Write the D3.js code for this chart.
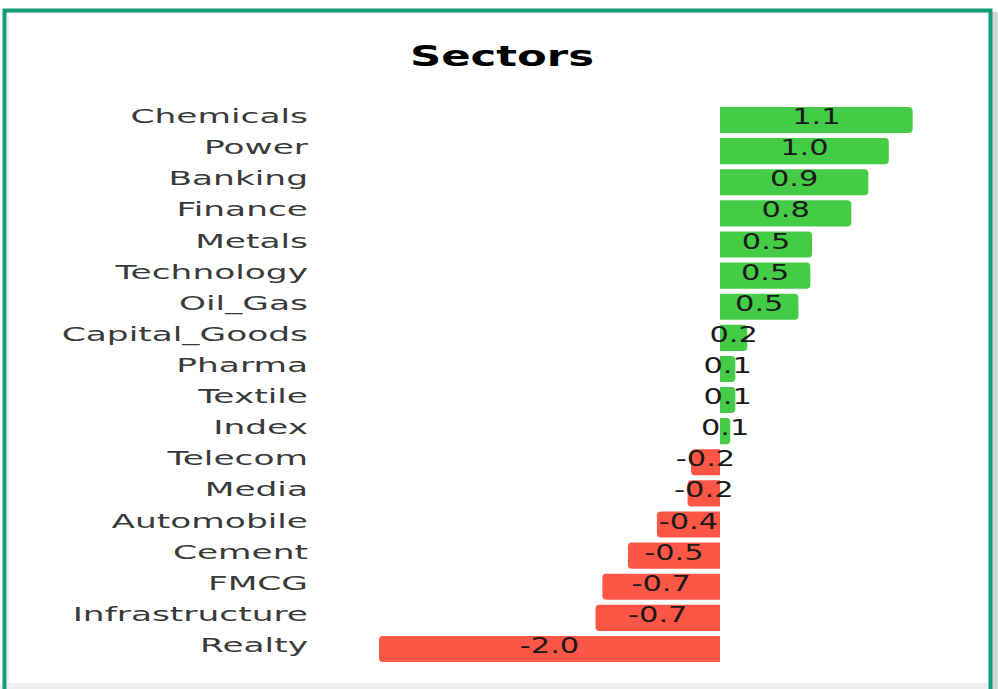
<!DOCTYPE html>
<html>
<head>
<meta charset="utf-8">
<script src="https://cdn.jsdelivr.net/npm/d3@7"></script>
<style>
  body { margin: 0; background: #ffffff; }
  svg { display: block; }
  text { font-family: "DejaVu Sans", sans-serif; }
</style>
</head>
<body>
<div id="chart"></div>
<script>
// Sector names, top to bottom
const sectors = ["Chemicals", "Power", "Banking", "Finance", "Metals", "Technology", "Oil_Gas",
  "Capital_Goods", "Pharma", "Textile", "Index", "Telecom", "Media", "Automobile", "Cement",
  "FMCG", "Infrastructure", "Realty"];

// Change values (%)
const changes = [1.13, 0.99, 0.87, 0.77, 0.54, 0.53, 0.46, 0.16, 0.09, 0.09, 0.06, -0.17, -0.19,
  -0.37, -0.54, -0.69, -0.73, -2.0];

const W = 998, H = 689;
const catStretch = 1.72; // the picture is stretched sideways
const valStretch = 1.45;

const svg = d3.select("#chart").append("svg")
  .attr("width", W)
  .attr("height", H);

// bottom gray strip and right shadow
svg.append("rect").attr("x", 0).attr("y", 683).attr("width", W).attr("height", 6).attr("fill", "#efefef");
svg.append("rect").attr("x", 992).attr("y", 12).attr("width", 6).attr("height", H).attr("fill", "#d4d4d4");
// soft inner line
svg.append("rect").attr("x", 7).attr("y", 12).attr("width", 981).attr("height", 2).attr("fill", "#eef1f0");
svg.append("rect").attr("x", 7).attr("y", 12).attr("width", 2).attr("height", 671).attr("fill", "#eef1f0");

// green frame
svg.append("path")
  .attr("d", "M4.5,689 V10.5 H990.5 V689")
  .attr("fill", "none")
  .attr("stroke", "#169b77")
  .attr("stroke-width", 4);

// title
svg.append("text")
  .attr("transform", "translate(502,66) scale(1.55,1)")
  .attr("text-anchor", "middle")
  .attr("font-size", 28)
  .attr("font-weight", "bold")
  .attr("fill", "#000")
  .text("Sectors");

const x = d3.scaleLinear()
  .domain([-2, 1.2])
  .range([379, 924.6]);

const y = d3.scaleBand()
  .domain(sectors)
  .range([104.5, 664.5])
  .paddingInner(0.16)
  .paddingOuter(0.08);

const data = sectors.map((s, i) => ({ name: s, value: changes[i] }));

// bar with rounded outer end only
function barPath(d) {
  const x0 = x(0), x1 = x(d.value);
  const top = y(d.name), bot = top + y.bandwidth();
  const r = Math.min(4, Math.abs(x1 - x0));
  if (d.value >= 0) {
    return `M${x0},${top} H${x1 - r} Q${x1},${top} ${x1},${top + r} V${bot - r} Q${x1},${bot} ${x1 - r},${bot} H${x0} Z`;
  }
  return `M${x0},${top} H${x1 + r} Q${x1},${top} ${x1},${top + r} V${bot - r} Q${x1},${bot} ${x1 + r},${bot} H${x0} Z`;
}

svg.selectAll(".bar")
  .data(data)
  .enter()
  .append("path")
  .attr("class", "bar")
  .attr("d", barPath)
  .attr("fill", d => d.value >= 0 ? "#44cc46" : "#fe5646");

// category labels
svg.selectAll(".cat")
  .data(data)
  .enter()
  .append("text")
  .attr("class", "cat")
  .attr("transform", d => `translate(308,${y(d.name) + y.bandwidth() / 2 + 3}) scale(${catStretch},1)`)
  .attr("text-anchor", "end")
  .attr("font-size", 20)
  .attr("fill", "#3a3a3a")
  .text(d => d.name);

// value labels centred on the bars (plain hyphen for minus, as in the picture)
const fmt = d3.format(".1f");
svg.selectAll(".val")
  .data(data)
  .enter()
  .append("text")
  .attr("class", "val")
  .attr("transform", d => `translate(${(x(0) + x(d.value)) / 2},${y(d.name) + y.bandwidth() / 2 + 4}) scale(${valStretch},1)`)
  .attr("text-anchor", "middle")
  .attr("font-size", 21)
  .attr("fill", "#1a1a1a")
  .text(d => fmt(d.value).replace("\u2212", "-"));
</script>
</body>
</html>
